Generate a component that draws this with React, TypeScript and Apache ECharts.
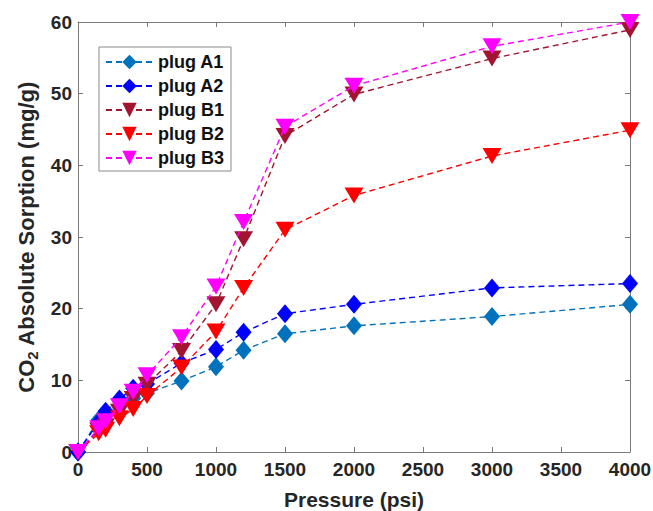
import React, { useEffect, useRef } from "react";
import * as echarts from "echarts";

const pressure = [0, 150, 200, 300, 400, 500, 750, 1000, 1200, 1500, 2000, 3000, 4000];
const plugA1 = [0, 4.5, 5.5, 6.5, 7.5, 8.2, 9.9, 11.9, 14.2, 16.5, 17.6, 18.9, 20.6];
const plugA2 = [0, 4.2, 5.7, 7.4, 8.9, 9.5, 12.4, 14.3, 16.7, 19.3, 20.6, 22.9, 23.5];
const plugB1 = [0, 3.0, 3.6, 5.6, 7.4, 9.4, 14.1, 20.6, 29.7, 44.1, 49.9, 54.9, 58.9];
const plugB2 = [0, 2.6, 3.1, 4.7, 6.0, 7.8, 11.8, 16.8, 22.9, 31.0, 35.8, 41.3, 44.9];
const plugB3 = [0, 3.3, 4.3, 6.4, 8.4, 10.7, 16.0, 23.1, 32.1, 45.4, 51.1, 56.6, 60.0];

const seriesNames = ["plug A1", "plug A2", "plug B1", "plug B2", "plug B3"];
const seriesValues = [plugA1, plugA2, plugB1, plugB2, plugB3];
const seriesColors = ["#0072BD", "#0000FF", "#A2142F", "#FF0000", "#FF00FF"];
const seriesMarkers = ["diamond", "diamond", "triangle", "triangle", "triangle"];

const FONT = "'Liberation Sans', Arial, Helvetica, sans-serif";
const TEXT = "#262626";
const AXIS = "#7a7a7a";

export default function App() {
  const ref = useRef<HTMLDivElement>(null);
  useEffect(() => {
    if (!ref.current) return;
    const chart = echarts.init(ref.current, undefined, { renderer: "svg" });
    const series = seriesNames.map((name, i) => {
      const isTri = seriesMarkers[i] === "triangle";
      return {
        name,
        type: "line",
        xAxisIndex: 0,
        yAxisIndex: 0,
        data: pressure.map((p, j) => [p, seriesValues[i][j]]),
        symbol: seriesMarkers[i],
        symbolSize: isTri ? [19, 16] : [16, 19],
        symbolRotate: isTri ? 180 : 0,
        color: seriesColors[i],
        itemStyle: { color: seriesColors[i] },
        lineStyle: { color: seriesColors[i], width: 1.4, type: [6, 4] },
        z: 2 + i,
      };
    });
    chart.setOption({
      animation: false,
      textStyle: { fontFamily: FONT },
      grid: { left: 78, right: 23, top: 22, bottom: 59, containLabel: false, outerBoundsMode: "none" },
      legend: {
        show: true,
        orient: "vertical",
        left: 99,
        top: 47,
        padding: [6, 7, 4, 6],
        itemGap: 6,
        itemWidth: 47,
        itemHeight: 18,
        borderColor: "#8a8a8a",
        borderWidth: 1,
        backgroundColor: "#fff",
        textStyle: { fontFamily: FONT, fontWeight: "bold", fontSize: 18, color: "#111" },
        data: seriesNames,
      },
      xAxis: [
        {
          type: "value",
          min: 0,
          max: 4000,
          interval: 500,
          position: "bottom",
          name: "Pressure (psi)",
          nameLocation: "middle",
          nameGap: 37,
          nameTextStyle: { fontFamily: FONT, fontWeight: "bold", fontSize: 21, color: TEXT, lineHeight: 21 },
          axisLine: { show: true, onZero: false, lineStyle: { color: AXIS, width: 1 } },
          axisTick: { show: true, inside: true, length: 5, lineStyle: { color: AXIS } },
          axisLabel: { fontFamily: FONT, fontWeight: "bold", fontSize: 19, color: TEXT, margin: 8, formatter: (v: number) => String(v) },
          splitLine: { show: false },
        },
        {
          type: "value",
          min: 0,
          max: 4000,
          interval: 500,
          position: "top",
          axisLine: { show: true, onZero: false, lineStyle: { color: AXIS, width: 1 } },
          axisTick: { show: true, inside: true, length: 5, lineStyle: { color: AXIS } },
          axisLabel: { show: false },
          splitLine: { show: false },
        },
      ],
      yAxis: [
        {
          type: "value",
          min: 0,
          max: 60,
          interval: 10,
          position: "left",
          name: "CO{sub|2} Absolute Sorption (mg/g)",
          nameLocation: "middle",
          nameRotate: 90,
          nameGap: 38,
          nameTextStyle: {
            fontFamily: FONT,
            fontWeight: "bold",
            fontSize: 22,
            color: TEXT,
            rich: {
              sub: { fontFamily: FONT, fontWeight: "bold", fontSize: 15, color: TEXT, verticalAlign: "bottom", padding: [12, 0, 0, 0] },
            },
          },
          axisLine: { show: true, onZero: false, lineStyle: { color: AXIS, width: 1 } },
          axisTick: { show: true, inside: true, length: 5, lineStyle: { color: AXIS } },
          axisLabel: { fontFamily: FONT, fontWeight: "bold", fontSize: 19, color: TEXT, margin: 6 },
          splitLine: { show: false },
        },
        {
          type: "value",
          min: 0,
          max: 60,
          interval: 10,
          position: "right",
          axisLine: { show: true, onZero: false, lineStyle: { color: AXIS, width: 1 } },
          axisTick: { show: true, inside: true, length: 5, lineStyle: { color: AXIS } },
          axisLabel: { show: false },
          splitLine: { show: false },
        },
      ],
      series,
    });
    return () => chart.dispose();
  }, []);
  return <div ref={ref} style={{ width: 653, height: 511, position: "absolute", left: 0, top: 0, background: "#fff" }} />;
}
